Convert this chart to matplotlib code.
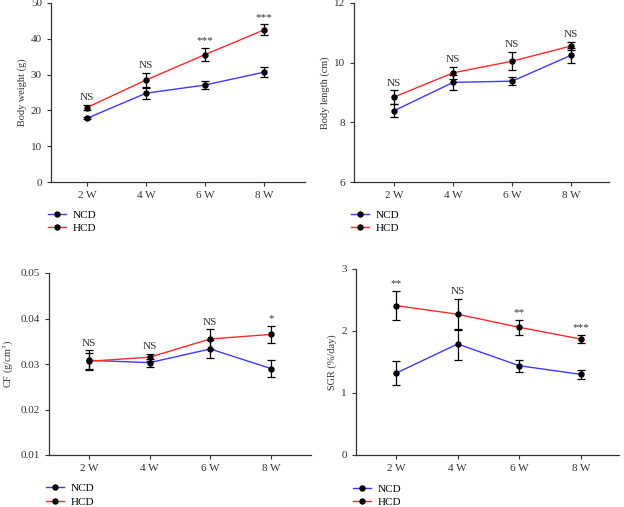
import numpy as np
import matplotlib
matplotlib.use("Agg")
import matplotlib.pyplot as plt
from matplotlib.lines import Line2D

plt.rcParams['font.family'] = ['Liberation Serif', 'DejaVu Serif']
plt.rcParams['mathtext.fontset'] = 'stix'
plt.rcParams['font.size'] = 8

# data
weeks = ["2 W", "4 W", "6 W", "8 W"]

bw_ncd = [17.8, 24.8, 27.1, 30.7]
bw_ncd_err = [0.3, 1.5, 1.1, 1.3]
bw_hcd = [20.8, 28.5, 35.6, 42.5]
bw_hcd_err = [0.7, 2.0, 1.8, 1.5]
bw_sig = ["NS", "NS", "***", "***"]

bl_ncd = [8.39, 9.34, 9.38, 10.25]
bl_ncd_err = [0.22, 0.24, 0.14, 0.25]
bl_hcd = [8.85, 9.66, 10.05, 10.56]
bl_hcd_err = [0.22, 0.2, 0.3, 0.14]
bl_sig = ["NS", "NS", "NS", "NS"]

cf_ncd = [0.0308, 0.0303, 0.0333, 0.0290]
cf_ncd_err = [0.0022, 0.0009, 0.0019, 0.0019]
cf_hcd = [0.0306, 0.0315, 0.0355, 0.0365]
cf_hcd_err = [0.0018, 0.0008, 0.0021, 0.0019]
cf_sig = ["NS", "NS", "NS", "*"]

sgr_ncd = [1.32, 1.79, 1.44, 1.30]
sgr_ncd_err = [0.19, 0.25, 0.095, 0.07]
sgr_hcd = [2.41, 2.27, 2.06, 1.87]
sgr_hcd_err = [0.23, 0.25, 0.12, 0.065]
sgr_sig = ["**", "NS", "**", "***"]

blue = '#3b3bff'
red = '#ff2b2b'
dark = '#333333'

W, H = 624, 507
fig = plt.figure(figsize=(W/100, H/100), dpi=100)

def px_axes(l, r, t, b):
    return fig.add_axes([l/W, 1-b/H, (r-l)/W, (b-t)/H])

def panel(ax, ncd, ncd_err, hcd, hcd_err, sig, ylim, yticks, ylabel, xlim, fmt):
    x = np.arange(1, 5)
    for y, e, c in [(ncd, ncd_err, blue), (hcd, hcd_err, red)]:
        ax.errorbar(x, y, yerr=e, color=c, lw=1, marker='o', ms=3.6,
                    mfc='black', mec='black', ecolor='black', elinewidth=0.9,
                    capsize=3, capthick=0.9, zorder=3)
    for i in range(4):
        top = max(ncd[i] + ncd_err[i], hcd[i] + hcd_err[i])
        ax.annotate(sig[i], (x[i], top), xytext=(0, 2), textcoords='offset points',
                    ha='center', va='bottom', fontsize=8, color=dark)
    ax.set_xlim(*xlim)
    ax.set_ylim(*ylim)
    ax.set_xticks(x)
    ax.set_xticklabels(weeks)
    ax.set_yticks(yticks)
    ax.set_yticklabels([fmt.format(v) for v in yticks])
    ax.set_ylabel(ylabel, color=dark, fontsize=7.4, labelpad=3)
    for s in ['top', 'right']:
        ax.spines[s].set_visible(False)
    for s in ['left', 'bottom']:
        ax.spines[s].set_color(dark)
        ax.spines[s].set_linewidth(0.9)
    ax.tick_params(direction='out', length=3, width=0.8, colors=dark, labelsize=8)
    handles = [Line2D([], [], color=blue, lw=1, marker='o', ms=3.6, mfc='black', mec='black'),
               Line2D([], [], color=red, lw=1, marker='o', ms=3.6, mfc='black', mec='black')]
    ax.legend(handles, ['NCD', 'HCD'], loc='upper left', bbox_to_anchor=(-0.01, -0.155),
              frameon=False, handlelength=1.6, handletextpad=0.6, labelspacing=0.35,
              fontsize=8, borderaxespad=0, borderpad=0)

ax1 = px_axes(51, 305, 3, 182)
panel(ax1, bw_ncd, bw_ncd_err, bw_hcd, bw_hcd_err, bw_sig, (0, 50),
      [0, 10, 20, 30, 40, 50], 'Body weight (g)', (0.39, 4.69), '{:.0f}')

ax2 = px_axes(354, 609, 3, 182)
panel(ax2, bl_ncd, bl_ncd_err, bl_hcd, bl_hcd_err, bl_sig, (6, 12),
      [6, 8, 10, 12], 'Body length (cm)', (0.32, 4.64), '{:.0f}')

ax3 = px_axes(49, 311, 273, 455)
panel(ax3, cf_ncd, cf_ncd_err, cf_hcd, cf_hcd_err, cf_sig, (0.01, 0.05),
      [0.01, 0.02, 0.03, 0.04, 0.05], 'CF (g/cm$^3$)', (0.34, 4.66), '{:.2f}')

ax4 = px_axes(356, 619, 269, 455)
panel(ax4, sgr_ncd, sgr_ncd_err, sgr_hcd, sgr_hcd_err, sgr_sig, (0, 3),
      [0, 1, 2, 3], 'SGR (%/day)', (0.35, 4.62), '{:.0f}')

fig.savefig('out.png', dpi=100)
